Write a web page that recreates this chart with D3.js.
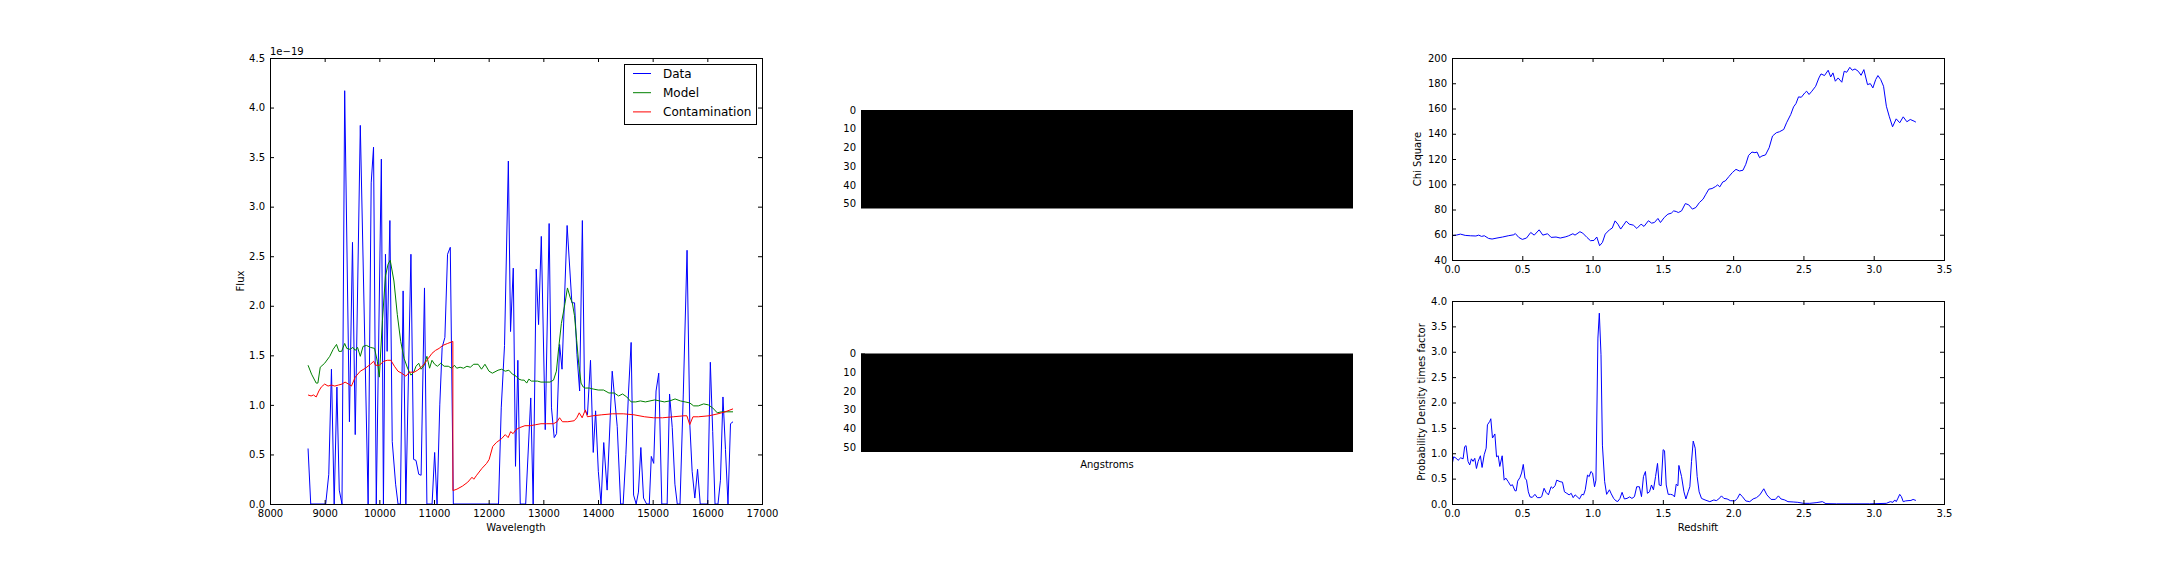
<!DOCTYPE html>
<html>
<head>
<meta charset="utf-8">
<script src="https://cdn.jsdelivr.net/npm/d3@7"></script>
<style>
  html, body { margin: 0; padding: 0; background: #fff; }
  svg { display: block; }
  text { font-family: "DejaVu Sans", sans-serif; }
</style>
</head>
<body>
<svg id="chart" width="2160" height="576"></svg>
<script>
// ---------------- DATA ----------------
// Spectrum panel (flux in units of 1e-19)
const dataWave = [8696,8745,9019,9075,9124,9174,9224,9267,9317,9366,9453,9509,9559,9652,9795,9851,9894,9944,10037,10075,10112,10143,10193,10236,10298,10342,10385,10435,10485,10578,10627,10671,10721,10764,10826,10870,10965,11012,11056,11106,11149,11199,11248,11298,11354,12180,12230,12290,12360,12400,12450,12491,12534,12578,12677,12770,12814,12870,12913,12963,13035,13106,13149,13199,13242,13298,13342,13435,13522,13571,13615,13664,13714,13758,13807,13863,13913,13956,14006,14056,14105,14167,14260,14352,14414,14460,14510,14560,14606,14651,14698,14740,14784,14833,14889,14938,14975,15019,15062,15111,15167,15265,15309,15358,15407,15450,15500,15560,15629,15680,15722,15771,15821,15870,16006,16055,16098,16141,16195,16240,16286,16332,16378,16424,16470];
const dataFlux = [0.56,0,0,0.3,1.36,0,1.18,0.14,0,4.17,0.83,2.64,0.70,3.82,0,3.24,3.60,0,3.48,0,2.52,1.54,2.86,0.63,0.2,0,0,2.15,0,2.52,0.45,0.44,0.30,0.29,2.18,0,0,0.52,0,1.0,1.58,1.68,2.52,2.59,0,0,0.97,1.6,3.46,1.74,2.38,0.38,1.45,0,0,1.07,0,2.37,1.81,2.70,0.75,2.83,0.97,0.67,0.71,1.61,1.36,2.81,2.03,2.03,1.51,1.14,2.86,0.95,0.90,1.45,0.52,0.94,0.33,0,0.62,0.14,1.34,0.78,0,0,0.5,1.15,1.63,0.09,0,0.12,0.57,0.06,0,0,0.48,0.41,1.14,1.32,0,0,1.11,0.77,0.2,0,0,1.1,2.56,0.8,0.33,0.06,0.35,0,0,1.43,0.73,0,0,0.24,1.08,0.55,0,0.81,0.83];

const modelWave = [8696,8760,8845,8876,8919,9000,9093,9155,9217,9261,9310,9366,9404,9466,9516,9559,9602,9652,9702,9764,9838,9913,9963,10000,10056,10112,10160,10199,10267,10329,10391,10453,10516,10578,10630,10671,10721,10764,10820,10870,10919,10963,11012,11062,11124,11186,11261,11323,11373,11416,11478,11540,11602,11664,11727,11807,11869,11932,12006,12068,12172,12238,12303,12369,12434,12500,12552,12604,12650,12696,12735,12781,12892,12957,13042,13121,13186,13239,13284,13330,13395,13441,13493,13530,13570,13610,13650,13690,13730,13768,13840,13912,14004,14102,14200,14298,14377,14449,14527,14606,14690,14775,14867,14952,15037,15129,15214,15312,15410,15508,15593,15678,15750,15835,15933,16018,16097,16182,16260,16358,16470];
const modelFlux = [1.40,1.31,1.22,1.22,1.38,1.42,1.49,1.56,1.61,1.54,1.54,1.62,1.57,1.56,1.58,1.55,1.58,1.49,1.59,1.60,1.58,1.57,1.44,1.28,1.85,2.30,2.42,2.46,2.25,1.91,1.64,1.47,1.37,1.30,1.33,1.39,1.42,1.36,1.40,1.49,1.37,1.45,1.41,1.39,1.42,1.39,1.39,1.37,1.40,1.37,1.38,1.37,1.39,1.38,1.41,1.41,1.36,1.41,1.34,1.32,1.35,1.36,1.34,1.35,1.31,1.29,1.26,1.25,1.25,1.22,1.26,1.24,1.24,1.23,1.23,1.23,1.25,1.34,1.59,1.82,2.02,2.18,2.08,2.03,1.90,1.65,1.40,1.22,1.18,1.17,1.17,1.16,1.15,1.15,1.12,1.12,1.09,1.11,1.08,1.03,1.03,1.04,1.03,1.04,1.05,1.04,1.03,1.04,1.06,1.04,1.03,1.02,0.99,0.99,1.01,1.00,0.97,0.92,0.93,0.93,0.93];

const contamWave = [8696,8752,8795,8845,8894,8938,9000,9062,9124,9186,9250,9317,9373,9435,9490,9559,9652,9745,9838,9897,9929,10001,10080,10145,10211,10276,10341,10407,10485,10551,10636,10701,10767,10832,10897,10963,11028,11093,11159,11250,11345,11346,11420,11519,11617,11695,11728,11780,11878,11963,12009,12074,12140,12238,12303,12356,12402,12447,12500,12565,12663,12761,12859,12957,13055,13186,13252,13297,13350,13448,13565,13611,13657,13710,13768,13807,13906,14069,14265,14462,14658,14854,15017,15181,15377,15573,15626,15678,15737,15835,16031,16195,16326,16470];
const contamFlux = [1.10,1.09,1.10,1.08,1.14,1.18,1.21,1.19,1.20,1.19,1.20,1.21,1.23,1.21,1.19,1.28,1.34,1.37,1.41,1.44,1.40,1.40,1.44,1.45,1.45,1.39,1.34,1.32,1.29,1.33,1.33,1.35,1.38,1.42,1.47,1.52,1.55,1.57,1.60,1.62,1.64,0.135,0.15,0.18,0.22,0.27,0.25,0.29,0.36,0.41,0.45,0.58,0.62,0.66,0.70,0.67,0.73,0.71,0.75,0.77,0.79,0.79,0.80,0.81,0.81,0.81,0.83,0.87,0.83,0.83,0.84,0.87,0.92,0.87,0.95,0.88,0.89,0.90,0.91,0.91,0.90,0.88,0.87,0.87,0.88,0.89,0.89,0.80,0.88,0.88,0.89,0.91,0.93,0.96];

const seriesNames = ["Data", "Model", "Contamination"];
const seriesColors = ["#0000ff", "#008000", "#ff0000"];

// Chi square vs redshift
const chiZ = [0,0.03,0.06,0.094,0.13,0.17,0.19,0.21,0.23,0.26,0.285,0.32,0.36,0.40,0.44,0.45,0.475,0.50,0.53,0.56,0.585,0.62,0.646,0.68,0.705,0.74,0.77,0.81,0.83,0.86,0.875,0.91,0.93,0.96,0.985,1.01,1.03,1.05,1.07,1.09,1.12,1.14,1.16,1.18,1.20,1.22,1.24,1.26,1.29,1.315,1.345,1.366,1.397,1.42,1.44,1.465,1.483,1.51,1.536,1.56,1.577,1.595,1.61,1.633,1.66,1.684,1.71,1.735,1.76,1.786,1.806,1.827,1.85,1.875,1.89,1.905,1.926,1.944,1.97,1.994,2.02,2.045,2.07,2.09,2.11,2.134,2.155,2.17,2.188,2.205,2.23,2.256,2.28,2.307,2.33,2.36,2.38,2.41,2.43,2.447,2.465,2.485,2.51,2.523,2.54,2.56,2.587,2.61,2.625,2.65,2.676,2.694,2.71,2.727,2.747,2.773,2.79,2.808,2.83,2.847,2.867,2.89,2.91,2.93,2.956,2.976,2.994,3.014,3.03,3.05,3.07,3.09,3.11,3.134,3.16,3.185,3.21,3.236,3.26,3.287,3.30];
const chiVal = [59.2,59.7,60.5,59.5,59.2,59.0,59.7,58.7,59.2,57.1,56.6,57.4,58.2,59.2,60.0,61.0,57.9,56.3,57.4,61.8,59.7,63.9,59.7,60.8,57.9,58.2,57.4,58.4,59.2,60.8,59.7,62.4,61.3,57.9,55.3,55.5,58.2,51.3,53.9,60.5,63.9,65.3,71.0,68.4,64.5,67.6,70.8,68.4,67.6,65.0,68.4,66.6,71.1,69.2,69.7,72.9,69.7,73.7,76.3,77.1,78.9,78.4,77.6,78.9,84.7,83.7,80.3,81.6,85.5,88.2,92.1,96.1,96.6,98.2,99.5,97.9,101.8,102.6,106.1,109.2,111.8,110.5,111.1,115.8,122.9,125.5,125.0,125.5,121.1,122.4,123.2,128.9,138.2,140.8,141.6,143.4,148.7,155.3,161.3,163.9,169.2,168.9,172.4,173.7,171.1,173.7,177.6,184.2,187.4,186.1,190.3,185.0,188.2,181.6,184.2,180.8,189.5,188.7,192.6,190.3,191.3,189.5,186.3,190.8,178.9,179.7,176.3,182.9,186.1,182.9,177.6,161.8,153.9,145.5,151.8,148.7,153.4,149.5,151.3,150.0,149.2];

// Probability density vs redshift
const probZ = [0,0.012,0.031,0.043,0.062,0.079,0.09,0.10,0.114,0.126,0.138,0.15,0.162,0.174,0.186,0.202,0.214,0.229,0.243,0.252,0.269,0.276,0.288,0.305,0.317,0.329,0.34,0.357,0.371,0.383,0.40,0.417,0.43,0.448,0.457,0.467,0.483,0.495,0.507,0.519,0.53,0.543,0.555,0.571,0.59,0.607,0.626,0.638,0.655,0.669,0.686,0.705,0.717,0.733,0.745,0.769,0.786,0.80,0.817,0.833,0.848,0.862,0.876,0.89,0.907,0.924,0.936,0.948,0.964,0.976,0.988,1.0,1.014,1.024,1.038,1.048,1.06,1.07,1.086,1.1,1.12,1.133,1.15,1.167,1.18,1.195,1.21,1.226,1.245,1.264,1.28,1.298,1.314,1.333,1.348,1.362,1.376,1.39,1.405,1.419,1.433,1.448,1.462,1.474,1.488,1.502,1.512,1.524,1.538,1.555,1.57,1.583,1.595,1.607,1.614,1.633,1.65,1.664,1.68,1.692,1.704,1.716,1.73,1.744,1.758,1.775,1.8,1.834,1.863,1.88,1.898,1.917,1.934,1.957,1.98,2.012,2.03,2.047,2.066,2.09,2.118,2.142,2.166,2.19,2.218,2.24,2.27,2.3,2.322,2.34,2.367,2.39,2.427,2.46,2.5,2.545,2.59,2.635,2.66,2.735,2.853,2.97,3.09,3.118,3.137,3.15,3.16,3.17,3.185,3.197,3.21,3.225,3.244,3.265,3.28,3.30];
const probVal = [0.77,0.93,0.90,0.86,0.91,0.89,1.13,1.15,0.84,0.77,0.89,0.84,0.90,0.70,0.84,0.95,0.72,0.97,1.10,1.56,1.63,1.68,1.30,1.38,0.93,0.95,0.74,0.95,0.47,0.51,0.44,0.36,0.38,0.26,0.26,0.45,0.52,0.61,0.78,0.51,0.47,0.24,0.14,0.13,0.19,0.125,0.125,0.145,0.31,0.23,0.18,0.34,0.31,0.36,0.47,0.44,0.43,0.24,0.21,0.18,0.21,0.125,0.18,0.145,0.10,0.19,0.18,0.28,0.57,0.54,0.64,0.61,0.34,0.47,3.27,3.76,2.94,1.16,0.44,0.19,0.28,0.20,0.11,0.06,0.05,0.11,0.23,0.10,0.11,0.14,0.11,0.145,0.34,0.34,0.145,0.54,0.64,0.21,0.24,0.375,0.28,0.54,0.80,0.375,0.36,1.07,1.05,0.375,0.19,0.19,0.18,0.14,0.39,0.36,0.76,0.54,0.24,0.10,0.24,0.34,0.84,1.24,1.10,0.54,0.24,0.11,0.08,0.046,0.08,0.066,0.10,0.16,0.11,0.10,0.066,0.06,0.11,0.20,0.145,0.06,0.046,0.10,0.125,0.18,0.30,0.18,0.09,0.09,0.16,0.10,0.08,0.046,0.04,0.033,0.013,0.013,0.026,0.046,0.007,0.003,0.003,0.003,0.013,0.046,0.033,0.08,0.046,0.10,0.19,0.145,0.046,0.06,0.066,0.07,0.09,0.07];

// Tick values
const waveTicks = [8000,9000,10000,11000,12000,13000,14000,15000,16000,17000];
const fluxTicks = [0,0.5,1,1.5,2,2.5,3,3.5,4,4.5];
const zTicks = [0,0.5,1,1.5,2,2.5,3,3.5];
const chiTicks = [40,60,80,100,120,140,160,180,200];
const probTicks = [0,0.5,1,1.5,2,2.5,3,3.5,4];
const rowTicks = [0,10,20,30,40,50];

// ---------------- DRAWING ----------------
const svg = d3.select("#chart");
svg.append("rect").attr("width", 2160).attr("height", 576).attr("fill", "#fff");

const FONT = "DejaVu Sans";

function axesFrame(g, x, y, xT, yT, xFmt, yFmt, id) {
  const [x0, x1] = x.range();
  const [yb, yt] = y.range();
  const styleAxis = sel => {
    sel.select(".domain").remove();
    sel.attr("font-family", FONT).attr("font-size", 10);
    sel.selectAll("line").attr("stroke", "#000").attr("stroke-width", 1);
    sel.selectAll("text").attr("fill", "#000");
  };
  g.append("g").attr("transform", `translate(0,${yb})`)
    .call(d3.axisBottom(x).tickValues(xT).tickSizeInner(-4).tickSizeOuter(0).tickPadding(6).tickFormat(xFmt))
    .call(styleAxis);
  g.append("g").attr("transform", `translate(0,${yt})`)
    .call(d3.axisTop(x).tickValues(xT).tickSizeInner(-4).tickSizeOuter(0).tickFormat(() => ""))
    .call(styleAxis);
  g.append("g").attr("transform", `translate(${x0},0)`)
    .call(d3.axisLeft(y).tickValues(yT).tickSizeInner(-4).tickSizeOuter(0).tickPadding(5).tickFormat(yFmt))
    .call(styleAxis);
  g.append("g").attr("transform", `translate(${x1},0)`)
    .call(d3.axisRight(y).tickValues(yT).tickSizeInner(-4).tickSizeOuter(0).tickFormat(() => ""))
    .call(styleAxis);
  g.append("rect")
    .attr("x", x0 + 0.5).attr("y", yt + 0.5)
    .attr("width", x1 - x0).attr("height", yb - yt)
    .attr("fill", "none").attr("stroke", "#000").attr("stroke-width", 1);
  svg.append("clipPath").attr("id", id)
    .append("rect").attr("x", x0).attr("y", yt).attr("width", x1 - x0).attr("height", yb - yt);
}

function drawLine(g, xs, ys, x, y, color, clipId) {
  const pts = xs.map((d, i) => [d, ys[i]]);
  g.append("path")
    .datum(pts)
    .attr("clip-path", `url(#${clipId})`)
    .attr("fill", "none")
    .attr("stroke", color)
    .attr("stroke-width", 1)
    .attr("stroke-linejoin", "round")
    .attr("d", d3.line().x(d => x(d[0])).y(d => y(d[1])));
}

// ---- Left: spectrum ----
const gL = svg.append("g");
const xL = d3.scaleLinear().domain([8000, 17000]).range([270, 762]);
const yL = d3.scaleLinear().domain([0, 4.5]).range([504, 58]);
drawLine(gL, dataWave, dataFlux, xL, yL, seriesColors[0], "clipL");
drawLine(gL, modelWave, modelFlux, xL, yL, seriesColors[1], "clipL");
drawLine(gL, contamWave, contamFlux, xL, yL, seriesColors[2], "clipL");
axesFrame(gL, xL, yL, waveTicks, fluxTicks, d3.format("d"), d3.format(".1f"), "clipL");
gL.append("text").attr("x", 270).attr("y", 55).attr("font-size", 10).attr("font-family", FONT).text("1e\u221219");
gL.append("text").attr("x", 516).attr("y", 531).attr("text-anchor", "middle").attr("font-size", 10).attr("font-family", FONT).text("Wavelength");
gL.append("text").attr("transform", "translate(243.5,281) rotate(-90)").attr("text-anchor", "middle").attr("font-size", 10).attr("font-family", FONT).text("Flux");

// legend
const leg = gL.append("g");
leg.append("rect").attr("x", 624.5).attr("y", 64.5).attr("width", 132).attr("height", 60)
  .attr("fill", "#fff").attr("stroke", "#000").attr("stroke-width", 1);
seriesNames.forEach((name, i) => {
  const yy = 73.5 + i * 19.2;
  leg.append("line").attr("x1", 633).attr("x2", 651).attr("y1", yy).attr("y2", yy)
    .attr("stroke", seriesColors[i]).attr("stroke-width", 1);
  leg.append("text").attr("x", 663).attr("y", yy).attr("dy", "0.36em")
    .attr("font-size", 12).attr("font-family", FONT).text(name);
});

// ---- Middle: two black images ----
function imagePanel(top, bottom, id) {
  const g = svg.append("g");
  const x = d3.scaleLinear().domain([0, 1]).range([861, 1353]);
  const y = d3.scaleLinear().domain([0, 52.6]).range([top, bottom]);
  g.append("rect").attr("x", x(0)).attr("y", y(0)).attr("width", x(1) - x(0)).attr("height", y(52.6) - y(0)).attr("fill", "#000");
  g.append("g").attr("transform", `translate(861,0)`)
    .call(d3.axisLeft(y).tickValues(rowTicks).tickSizeInner(-4).tickSizeOuter(0).tickPadding(5).tickFormat(d3.format("d")))
    .call(sel => {
      sel.select(".domain").remove();
      sel.attr("font-family", FONT).attr("font-size", 10);
      sel.selectAll("line").attr("stroke", "#000");
      sel.selectAll("text").attr("fill", "#000");
    });
  return g;
}
imagePanel(110, 208.5, "imgTop");
const gImg2 = imagePanel(353.5, 452, "imgBot");
gImg2.append("text").attr("x", 1107).attr("y", 468).attr("text-anchor", "middle").attr("font-size", 10).attr("font-family", FONT).text("Angstroms");

// ---- Right top: chi square ----
const gC = svg.append("g");
const xR = d3.scaleLinear().domain([0, 3.5]).range([1452, 1944]);
const yC = d3.scaleLinear().domain([40, 200]).range([260, 58]);
drawLine(gC, chiZ, chiVal, xR, yC, seriesColors[0], "clipC");
axesFrame(gC, xR, yC, zTicks, chiTicks, d3.format(".1f"), d3.format("d"), "clipC");
gC.append("text").attr("transform", "translate(1421,159) rotate(-90)").attr("text-anchor", "middle").attr("font-size", 10).attr("font-family", FONT).text("Chi Square");

// ---- Right bottom: probability ----
const gP = svg.append("g");
const yP = d3.scaleLinear().domain([0, 4]).range([504, 301]);
drawLine(gP, probZ, probVal, xR, yP, seriesColors[0], "clipP");
axesFrame(gP, xR, yP, zTicks, probTicks, d3.format(".1f"), d3.format(".1f"), "clipP");
gP.append("text").attr("x", 1698).attr("y", 531).attr("text-anchor", "middle").attr("font-size", 10).attr("font-family", FONT).text("Redshift");
gP.append("text").attr("transform", "translate(1425,402) rotate(-90)").attr("text-anchor", "middle").attr("font-size", 10).attr("font-family", FONT).text("Probability Density times factor");
</script>
</body>
</html>
